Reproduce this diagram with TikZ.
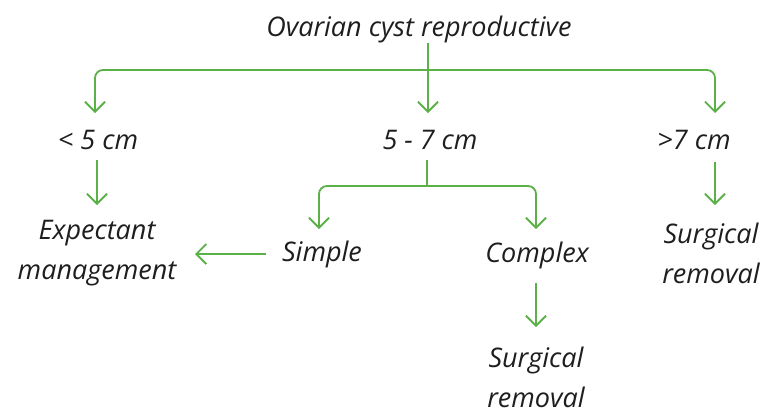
\documentclass[tikz,border=0pt]{standalone}
\usepackage{fontspec}
\setmainfont{Open Sans}
\usetikzlibrary{arrows.meta}
\definecolor{edgegreen}{HTML}{5BB047}
\definecolor{ink}{HTML}{1E1E1E}
\begin{document}
\begin{tikzpicture}[x=1pt,y=-1pt,
  lbl/.style={font=\fontsize{27}{40}\selectfont\itshape, text=ink, inner sep=0pt, align=center},
  arr/.style={draw=edgegreen, line width=1.8pt, rounded corners=8pt,
    -{Straight Barb[length=10pt,width=20pt,line width=1.8pt]}},
  seg/.style={draw=edgegreen, line width=1.8pt, rounded corners=8pt}]
\useasboundingbox (0,0) rectangle (772,416);
% nodes
\node[lbl] (root) at (419,29) {Ovarian cyst reproductive};
\node[lbl] (lt) at (98,140) {< 5 cm};
\node[lbl] (mid) at (430,140) {5 - 7 cm};
\node[lbl] (gt) at (694,140) {>7 cm};
\node[lbl] (exp) at (97,253) {Expectant\\management};
\node[lbl] (simple) at (322,254) {Simple};
\node[lbl] (complex) at (537,255) {Complex};
\node[lbl] (surgR) at (711,253) {Surgical\\removal};
\node[lbl] (surgB) at (536,377) {Surgical\\removal};
% junctions and anchor points
\coordinate (j1) at (428,70);
\coordinate (j2) at (427,186);
\coordinate (expR) at ([xshift=98pt]exp.center);
\coordinate (gtA) at ([xshift=21pt]gt.center);
\coordinate (surgRtop) at ([yshift=48pt]surgR.center);
% top trunk and branches
\draw[arr] ([xshift=-2pt,yshift=-14pt]mid.center |- root.center) -- ([xshift=-2pt,yshift=27pt]mid.center);
\draw[arr] (j1) -| ([xshift=-3pt,yshift=27pt]lt.center);
\draw[arr] (j1) -| ([yshift=27pt]gtA);
% < 5 cm -> Expectant
\draw[arr] ([xshift=-1pt,yshift=-20pt]lt.center) -- ([yshift=48pt]exp.center);
% 5-7 cm branches
\draw[seg] ([xshift=-3pt,yshift=-20pt]mid.center) -- (j2);
\draw[arr] (j2) -| ([xshift=-3pt,yshift=25pt]simple.center);
\draw[arr] (j2) -| ([xshift=-1pt,yshift=26pt]complex.center);
% Simple -> Expectant
\draw[arr] ([xshift=-56pt]simple.center) -- (simple.center -| expR);
% Complex -> Surgical
\draw[arr] ([xshift=-1pt,yshift=-28pt]complex.center) -- ([yshift=50pt]surgB.center);
% >7 cm -> Surgical
\draw[arr] ([yshift=-22pt]gtA) -- (gtA |- surgRtop);
\end{tikzpicture}
\end{document}
